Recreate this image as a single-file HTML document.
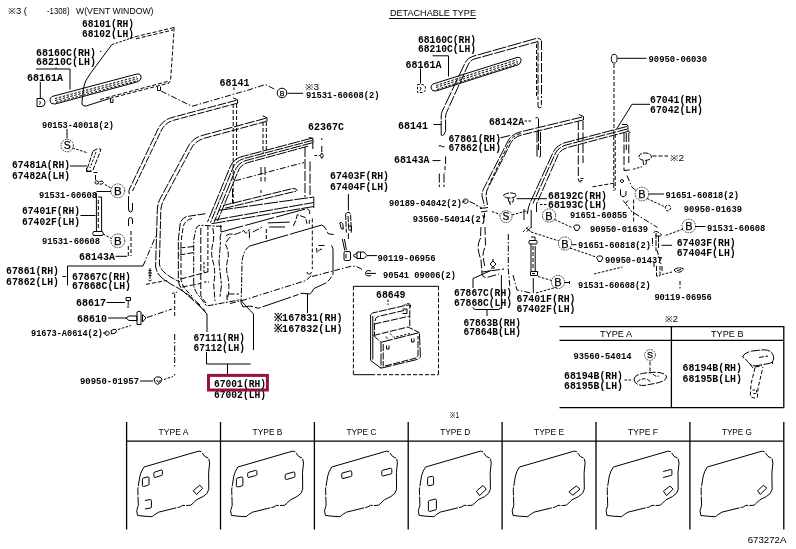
<!DOCTYPE html>
<html><head><meta charset="utf-8"><title>Door panel diagram</title>
<style>
html,body{margin:0;padding:0;background:#fff;}
body{width:796px;height:549px;overflow:hidden;font-family:"Liberation Sans",sans-serif;}
svg{display:block;will-change:transform;}
.m{font-family:"Liberation Mono",monospace;font-weight:bold;fill:#000;}
.s{font-family:"Liberation Sans",sans-serif;fill:#000;}
.s2{font-family:"Liberation Sans",sans-serif;fill:#000;stroke:#000;stroke-width:0.25;}
.l{fill:none;stroke:#000;stroke-width:1;stroke-linecap:butt;stroke-linejoin:round;}
.t{fill:none;stroke:#000;stroke-width:1.3;}
.d{fill:none;stroke:#000;stroke-width:1;stroke-dasharray:4 2;}
.dd{fill:none;stroke:#000;stroke-width:1;stroke-dasharray:6 2 1.5 2;}
.d2{fill:none;stroke:#000;stroke-width:1;stroke-dasharray:2.5 1.5;}
.c{fill:#fff;stroke:#000;stroke-width:0.8;stroke-dasharray:1.6 1;}
.w{fill:#fff;stroke:#000;stroke-width:1;}
</style></head><body>
<svg width="796" height="549" viewBox="0 0 796 549">
<rect x="0" y="0" width="796" height="549" fill="#fff"/>
<path d="M52 96.5 L137 74 Q141.5 73.5 141 78 Q140.5 81 137 82 L55 104 Q50.5 104.5 50 101 Q49.8 97.5 52 96.5Z" class="l" />
<path d="M55 98.5L137 76.8 M55 100.5L138 78.7 M56 102.3L138 80.6" class="d2" />
<path d="M111.8 44.6 L90 74 Q84.5 81 83.5 88 L82 102 Q81.5 106.5 86 106 L109.5 98.5" class="l" />
<path d="M135 36.8 L174.2 27.5 M136 38.8 L173 30" class="d" />
<path d="M174.2 27.5 L170.6 80 L168.5 83.5" class="d" stroke-dasharray="7 3"/>
<path d="M109.5 98.5 L169 83 M100 99.5 L168 81.3" class="d" stroke-dasharray="5 1.5"/>
<path d="M111.8 44.6 L135 36.8" class="d2" />
<path d="M100 51.5 h1.2" class="l" />
<path d="M110.5 99 v3.5 h2.5 v-3.5 M157.5 86.5 v4 h3 v-4" class="l" />
<path d="M161 91 L192 106.3 L250 89.5 L265.5 84.5 L276 90" class="dd" />
<path d="M36 69H70V89.5 M56 69v-1.5" class="l" />
<path d="M40.3 82V98" class="l" />
<path d="M37 98.5h5q3 0.5 3 4t-3 4h-5Z" class="l" />
<path d="M39.5 101q2 1.5 0 3.5" class="l" />
<path d="M67.0 129.0L67.0 138.5" class="l"/>
<circle cx="67.2" cy="145.6" r="6.199999999999999" class="c"/>
<text x="67.2" y="149.4" font-size="10.5" text-anchor="middle" class="s2">S</text>
<path d="M72.5 148 L88 153" class="d2" />
<path d="M93 151 L98 148.5 L101 149.5 L93 170 L88.5 171.5 L87 169.5 Z" class="l" stroke-dasharray="5 1.5"/>
<path d="M96 152 L90 168" class="d2" />
<path d="M70.0 166.0L87.0 166.0" class="l"/>
<path d="M86.5 168 v3.5 h5 M93.5 172.5 h4 M95.5 175 v5 M95 182.5 a1.8 1.6 0 1 0 3.6 0 a1.8 1.6 0 1 0 -3.6 0 M99.5 181.5 q3 -1.5 4 1 q-1 2.5 -4 1.5" class="l" />
<path d="M105 184.5 L111 188" class="d2" />
<circle cx="117.8" cy="190.8" r="6.8999999999999995" class="c"/>
<text x="117.8" y="194.9" font-size="11.5" text-anchor="middle" class="s2">B</text>
<path d="M96.5 191.5L111.0 191.5" class="l"/>
<path d="M533 246 V270" class="d" stroke-dasharray="5 2"/>
<path d="M98.3 200 V230" class="d" stroke-dasharray="5 2"/>
<path d="M96.4 193 V231 M98 197 H101.6 V231 M93.5 231.5 h9 q1.5 2 0 4 h-9 q-1.5 -2 0 -4Z" class="l" />
<path d="M80.5 215.5L95.5 215.5" class="l"/>
<path d="M103 234 L111.5 238.5" class="d2" />
<circle cx="117.8" cy="240.8" r="6.8999999999999995" class="c"/>
<text x="117.8" y="244.9" font-size="11.5" text-anchor="middle" class="s2">B</text>
<path d="M115.5 256.3L127.0 256.3" class="l"/>
<path d="M67.5 285.5V266H143" class="l" />
<path d="M143 266 L155.6 236.5" class="dd" />
<path d="M62.5 276.5L66.0 276.5" class="l"/>
<path d="M148.5 270.5h3 M148 273h4 M148.5 275.5h3 M150 268v11 M148.5 280q1.5 2 3 0" class="l" />
<path d="M106.5 302.5L125.0 302.5" class="l"/>
<path d="M126 297.5h4.5v3h-4.5Z M128.2 300.5v5 M127 306.5q1.2 1.5 2.4 0" class="l" />
<path d="M108.0 318.0L126.0 318.0" class="l"/>
<path d="M126 318 l3 -2 h8 v4.5 h-8 Z M137 312 q2.5 -1.5 4 0 v12.5 h-4 Z M142.5 314.5 l3.5 3.5 l-3.5 4 Z" class="l" />
<path d="M147 317.5 L172 309" class="dd" />
<path d="M103 333h3.5 M107 331 a2.2 2.2 0 1 0 0.1 0 M111 330.5 l4 -1.5 l1.5 1.5 l-1 2.5 l-4 1 Z" class="l" />
<path d="M118 329.5 L131 325.5" class="d2" />
<path d="M140.0 381.0L153.0 381.0" class="l"/>
<path d="M154 379 l2.5 -2 h3.5 l2 2 l-1.5 3.5 l-3 2 l-2.5 -2 Z M156.5 380 l2 2.5 l2 -2.5" class="l" />
<path d="M164 379.5 L173 376.5" class="d2" />
<path d="M174.7 294 V317" class="d" stroke-dasharray="3 2.5"/>
<path d="M174.7 334 V368 M174.7 374 v1.5" class="dd" />
<path d="M172 293.5 l5 -1.5" class="d2" />
<path d="M236.3 100.3 L172 117.5 Q163 120 158.5 128 L129.5 189" class="l" stroke-dasharray="9 1.5"/>
<path d="M237 103.3 L173.5 120.3 Q165.5 122.5 161.5 130 L132.5 191" class="l" stroke-dasharray="7 1.5"/>
<path d="M233 97.8 l4.5 2 v3.8" class="l" />
<path d="M233.2 104 V205 M236.6 104 V160" class="d" stroke-dasharray="8 3"/>
<path d="M129.5 189 q-1.5 3 0 5 M128.5 196 V209 q0 3 2 3 q2 0 2 -3 V203" class="l" />
<path d="M128.5 226 V220 q0 -2.5 2 -2.5 q2 0 2 2.5 v4" class="l" />
<path d="M131 231 V256 M128.3 246 V256" class="d" stroke-dasharray="6 2"/>
<path d="M265.8 118.3 L202 135.5 Q193 138 188.5 146 L160 199 Q157.5 204 157.3 210 L155.6 266 Q156 272 161 277 Q168 283 178 288 L190 296 L200 305" class="l" stroke-dasharray="10 1.5"/>
<path d="M266.5 121.3 L203.5 138.5 Q195.5 141 191.5 148 L163.5 200.5 Q161 205 160.8 211 L159.4 264 Q160 269 165 273 Q171 278 180 282" class="l" stroke-dasharray="8 1.5"/>
<path d="M262.5 115.8 l4.5 2 v3.8" class="l" />
<path d="M263 122 V154 M266.3 122 V150" class="d" stroke-dasharray="8 3"/>
<path d="M312.5 138 L243 156.3 Q234 158.5 230.5 166 L207.5 222" class="l" stroke-dasharray="12 1.2"/>
<path d="M312.8 140.3 L244.5 158.4 Q236.5 160.5 233.2 167.3 L210.5 222.5" class="l" stroke-dasharray="9 1.2"/>
<path d="M313 142.6 L246 160.5 Q239 162.5 236 168.5 L214 222.5" class="l" stroke-dasharray="11 1.2"/>
<path d="M308 146.2 L247.5 162.7 Q241.5 164.5 238.8 169.7 L217.5 221" class="l" stroke-dasharray="10 1.2"/>
<path d="M309 137.5 l4 1 v4" class="l" />
<path d="M305 147 V197 M310 161.5 V195 M312.8 142.4 V149" class="l" stroke-dasharray="10 2"/>
<path d="M235.4 180.7 L304 162.5" class="dd" />
<path d="M232.5 189 V203.5" class="l" stroke-dasharray="8 2"/>
<path d="M261 167 V181.5 M265 167 V181.5 M261 190 v3" class="l" stroke-dasharray="8 2"/>
<path d="M223 205.5 L293 188.5 q3.5 -0.5 4.5 2.5" class="l" stroke-dasharray="9 1.2"/>
<path d="M321.8 138 v2" class="l" />
<path d="M321.8 146 v6 M320.2 155.5 l1.6 -2.5 l1.6 2.5 l-1.6 3 Z" class="l" />
<path d="M314.5 155.5 h5" class="d2" />
<path d="M234 87.5 v2.5" class="l" />
<path d="M219 210.3 L313.8 197 M214.3 220 L313.8 202.5 M211.5 223.7 L313.8 206.5" class="l" stroke-dasharray="14 1.2"/>
<path d="M313.8 197.3 V208" class="l" />
<path d="M205.5 213.7 L187 216.5 Q181 218 180 225 L178.3 240 V280 Q179 287 184 292 L189 296.6 L205.5 311" class="l" stroke-dasharray="8 1.5"/>
<path d="M192 218.5 Q184 220.5 183 228 L181 242 V279 Q181.8 285 186 290 L192 296" class="l" stroke-dasharray="5 2"/>
<path d="M222 226.5 L200 225.2 Q196 226 195.5 231 L193.7 240 V285 Q194.5 291 199 296 L206.7 306 L238.7 300" class="l" stroke-dasharray="6 1.5 2 1.5"/>
<path d="M200.8 228 V296 L206 303" class="l" stroke-dasharray="7 2"/>
<path d="M207.9 226 V273" class="d" stroke-dasharray="1.5 2"/>
<path d="M212.7 228 q2 8 0 16 q-2.5 10 1 20 q2 10 0 20 L215 301" class="l" stroke-dasharray="6 2"/>
<path d="M179.5 248 L193.7 246.5 M179.5 255 L193.7 252.5 M180.7 279 L208 271.8 M181.8 287 L200.8 283.5" class="l" stroke-dasharray="6 2"/>
<path d="M204 262 v12 M204 282 h5" class="d2" />
<path d="M220.7 225 L221 232 L307 208.6 L309.7 210.8 V214" class="l" stroke-dasharray="30 2"/>
<path d="M312.3 218.5 V269" class="d" stroke-dasharray="6 3"/>
<path d="M221 233.5 Q219.5 237 220.5 242 L219 262 L221.5 285 L220 297" class="l" stroke-dasharray="7 1.5 3 1.5"/>
<path d="M230 237.2 Q226 241 225.6 244.8 q3.5 6 2.5 13 q-3 10 0 20 q2 12 -1 22 L227 294 h12" class="l" stroke-dasharray="6 2"/>
<path d="M226 235.5 q4 -2.5 8 -1 q5 -1 9.7 -4 l2.3 3 l3.7 -4.5 M249.4 231.2 V240.2 M252.7 232 L261.8 227.4" class="l" stroke-dasharray="7 1.5"/>
<path d="M266.3 229 V241.8" class="d" stroke-dasharray="5 2"/>
<path d="M267.8 222.9 L289.7 222.1 M269.3 227 H285.1" class="l" />
<path d="M293.4 225.9 L296 220 L297.2 214.6 L305.5 217.6 L307 223.7 M309.3 219.9 V223.7" class="l" stroke-dasharray="6 1.5"/>
<path d="M249.7 246 L321.8 225 L325 227.3 L328.4 233.9 L333.8 234.5" class="l" stroke-dasharray="40 2"/>
<path d="M331.6 245.5 L333 249 V274.3 L330 279 L326 283 L314 288.5 L311.5 292.5 L309.8 294 L302 293.3 L265 306 L258.4 308.3 L250 306 L243 307 L241 302.7" class="l" stroke-dasharray="30 2 6 2"/>
<path d="M249.7 246 Q245 249 244 254 Q241.5 259 242 266 L241.3 296 L241 302.7" class="l" stroke-dasharray="6 1.5 2 1.5"/>
<path d="M316.5 248 l0.5 4.5 M318.5 245.5 h6 M318 251.5 q1.5 -2.5 4 -2.5" class="l" />
<path d="M307 272 a2.2 2.2 0 1 0 4.4 0" class="l" />
<path d="M230 303.5 L244 300 L306 280.5 L311.5 275.5" class="dd" />
<path d="M146 284.3 L167 280.4" class="d" stroke-dasharray="5 3"/>
<path d="M312 276.5 L351.3 266.2 H356 L363.6 270.3" class="dd" />
<path d="M197 303 L207 314 V332" class="l" />
<path d="M240 299.5 L253.5 314 V350" class="l" />
<path d="M307.5 293.5 V313" class="l" />
<path d="M206.5 352 V364 H250.5 M227.5 364 V375" class="l" />
<path d="M348.4 194.0L348.4 210.5" class="l"/>
<path d="M345.6 214 l1.5 -1.5 h2.5 l1 1.5 L351.3 232.6 M345.6 214 L346.4 232.6 M348 216 l0.8 14" class="l" stroke-dasharray="6 1.2"/>
<path d="M339.8 222.8 q2 -1 3 1 l0.5 5.5 M339.8 222.8 l1.5 6 h2" class="l" />
<path d="M348.5 226 h3 v4 h-3" class="l" />
<path d="M348.4 233.4 V239 M342.3 239 L344.8 250.7 M344.4 239 L346.4 250" class="l" />
<path d="M344 253 q0 -1.5 1.5 -1.5 h3.5 q1.5 0 1.5 1.5 v6 q0 1.5 -1.5 1.5 h-3.5 q-1.5 0 -1.5 -1.5Z M346 254 v4.5" class="l" />
<path d="M353 255.6 l4 -2.6 M353 255.6 l4 2.6 M357 252 h7 l3 3.5 l-3 3 h-7 Z M360.5 252 v6.5" class="l" />
<path d="M367.0 255.6L377.0 255.6" class="l"/>
<path d="M371 271 q-5 -1.5 -5.5 2.3 q0.5 3.7 5.5 2.2 M366.5 273.4 h9.5" class="l" stroke-width="1.2"/>
<path d="M353.4 286.3 H438.5" class="l" />
<path d="M353.4 286.3 V374.7 M438.5 286.3 V374.7" class="d" stroke-dasharray="3 1.5"/>
<path d="M353.4 374.7 H375" class="l" />
<path d="M377 374.7 H438.5" class="d" stroke-dasharray="3 1.5"/>
<path d="M388 299.5 V305" class="d2" />
<path d="M370.6 314.8 L372.5 313 L406 305.3 L409.8 305 V326" class="l" stroke-dasharray="8 1.2"/>
<path d="M404 305.5 L406 303.5 L410.5 304 V308" class="d2" />
<path d="M370.6 314.8 V360.4 L381 368.2 M372.8 316 V359.5" class="l" />
<path d="M375 321 q0 -3.5 3 -4.5 L406 310 M374.5 323 V335" class="l" stroke-dasharray="7 1.5"/>
<path d="M402.5 309 h4.5 v4.5 h-4.5" class="l" />
<path d="M373.5 335.5 L408 327 L419.4 332.6 M373.5 335.5 L381 342.3" class="l" stroke-dasharray="7 1.5"/>
<path d="M381 342.3 L419.4 332.6 L420.4 356.5 Q420 358.5 417 359.5 L381 368.2 Z" class="l" stroke-dasharray="12 1.5"/>
<path d="M383.2 344 V366.5 M385 366 L416 358 Q418 357 418 355 V336" class="l" stroke-dasharray="7 1.5"/>
<path d="M386 336.5 l3 4.5 M390 333.5 l4 4 L410 333.5" class="d2" />
<path d="M386.5 345.5 v3.5 h2.5 v-3.5 M411.5 338.5 v3.5 h2.5 v-3.5" class="l" />
<path d="M433 84 L517 57.5 Q521.5 57 521 61 Q520.5 64 517.5 65 L436 91 Q431.5 91.5 431 88 Q430.8 85 433 84Z" class="l" />
<path d="M436 85.5L517 59.8 M436 87.5L518 61.7 M437 89.5L518 63.7" class="d2" />
<path d="M432.6 55.8H448.5V76.5" class="l" />
<path d="M420.5 68.5L420.5 83.5" class="l"/>
<path d="M417.5 84.5h5q3 0.5 3 4t-3 4h-5Z" class="d2" />
<path d="M420 87q2 1.5 0 3.5" class="l" />
<path d="M441.2 135 V116 Q441.2 113.5 442.3 111 L465.5 62 Q468 57.5 473 56.3 L536 38.5 Q540 37.5 541.3 40.5" class="l" stroke-dasharray="14 1.5"/>
<path d="M445.6 130.5 V117 Q445.6 114.5 446.5 112.5 L468.5 64 Q470.5 60 475 58.8 L538 41.5" class="l" stroke-dasharray="11 1.5"/>
<path d="M441.2 135 q2.2 2.5 4.4 -4.5" class="l" />
<path d="M538 41.5 V100 M541.5 41 V98 M538 102 v5 q1.7 2 3.4 0 v-7" class="l" stroke-dasharray="9 2"/>
<path d="M536.5 44 V96" class="d" stroke-dasharray="5 6"/>
<path d="M433.5 124.5L441.0 124.5" class="l"/>
<path d="M524.5 121 h7" class="d2" />
<path d="M535.5 118 q3 -1.5 3 2 V150 M540.5 132 V156 q-2 3 -3.5 0 V130" class="l" stroke-dasharray="12 2"/>
<path d="M432.5 160.6 h8" class="l" />
<path d="M445.6 156.4 V164" class="l" />
<path d="M445 166 V172.5" class="d" stroke-dasharray="1.5 2"/>
<path d="M439.3 173.6 V187 M444 173.6 V187" class="l" stroke-dasharray="9 2"/>
<path d="M438.5 146.3 q1.5 -1.5 3 0 q1.5 1.2 3 0" class="l" />
<path d="M582.3 117 L520 132 Q512 134 508 141 L485 186 Q482 191 482 196 L484.5 206" class="l" stroke-dasharray="11 1.5"/>
<path d="M583 120 L521.5 135 Q514 137 510.5 143.5 L489 186 Q486 191 486 196 L487.5 205" class="l" stroke-dasharray="9 1.5"/>
<path d="M579 114.5 l4.5 2 v3.8" class="l" />
<path d="M500.5 137.8 L510 135.5" class="l" />
<path d="M578.3 121 V179 q0.3 3.5 3 3 M583 121 V163 M580.5 178.5 h3 M580.5 180.5 h2" class="l" stroke-dasharray="9 2.5"/>
<path d="M481 227 L480.5 238 Q478 243 478 248 Q479 255 481 260 L482 274 Q483 278 487 277.5 L499 274" class="l" stroke-dasharray="9 2"/>
<path d="M485 227 L485.5 246 Q483 251 483 256 L485 268" class="l" stroke-dasharray="8 2.5"/>
<path d="M482 272 L504 269" class="l" stroke-dasharray="8 2"/>
<path d="M508.3 234 V270 L510 288" class="dd" />
<path d="M626.8 126.5 L565 142.7 Q557 145 553.5 151.5 L530 203 Q528 208 527.5 213" class="l" stroke-dasharray="12 1.5"/>
<path d="M627.3 129 L566 145 Q558.5 147.3 555.5 153 L533 203.5" class="l" stroke-dasharray="10 1.5"/>
<path d="M627.8 131.5 L567.5 147.5 Q560.5 149.5 558 155 L536.5 204" class="l" stroke-dasharray="9 1.5"/>
<path d="M622 124.5 h5 l1 2 v5 l2.5 1" class="l" />
<path d="M624 133 V170.6 l7.5 -1 M628.8 133 V163 M626.3 133 V150" class="l" stroke-dasharray="9 2.5"/>
<path d="M633 169.3 l9 -2.6" class="d2" />
<ellipse cx="614.2" cy="58.7" rx="2.9" ry="4.4" class="l"/>
<path d="M617.5 58.3L646.5 58.3" class="l"/>
<path d="M614 64 V128" class="d" stroke-dasharray="6 3.5"/>
<path d="M613.8 130 V191" class="d" stroke-dasharray="3.5 2"/>
<path d="M615.2 134 V190" class="d" stroke-dasharray="1.5 4.5"/>
<path d="M650 104.3 H632 L617 128.5" class="l" />
<path d="M638.8 157 q0.5 -4 6.5 -4 q6 0.3 6.2 4 q-1 3.2 -6.5 3.4 q-5.5 -0.2 -6.2 -3.4 Z M643 160.5 l0.5 4 h2.5 l0.5 -4" class="l" stroke-dasharray="5 1.3"/>
<path d="M652.5 156 H668" class="d" stroke-dasharray="4 2"/>
<path d="M462.5 202.5 l3 -2 M465.5 199 a2.6 2.2 0 1 0 0.1 0 M469.5 201.5 l5.5 2.5" class="l" />
<path d="M476 205 L483 208.5" class="d2" />
<path d="M480 208.5 l8 -1 M481 212 l6.5 -1 M484.5 213 v5" class="l" stroke-width="1.3"/>
<path d="M492 211.5 L500 214.5" class="d2" />
<circle cx="506.0" cy="216.6" r="6.0" class="c"/>
<text x="506.0" y="220.3" font-size="10.2" text-anchor="middle" class="s2">S</text>
<path d="M512 215 L526 211" class="d2" />
<path d="M503.5 195 q6.5 -4 13 -0.5 q-0.5 3.5 -6.5 3.5 q-6 0 -6.5 -3 Z M508 198 l1 4 h4 l0.5 -3.5 M509.5 202 l1 3" class="l" stroke-dasharray="6 1"/>
<path d="M516.5 198.7L547.0 198.7" class="l"/>
<path d="M540 204.5 h7" class="d2" />
<path d="M536.5 204 V212" class="l" />
<path d="M524 209 V220 M527.3 211 V214" class="l" />
<path d="M523 232 L529 226" class="d2" />
<circle cx="549.0" cy="215.5" r="6.6" class="c"/>
<text x="549.0" y="219.5" font-size="11" text-anchor="middle" class="s2">B</text>
<path d="M554.5 219.5 L572 227.5" class="d2" />
<path d="M573.5 226.5 l2 -1.5 h3 l1.5 2 l-2 3.5 h-2.5 Z" class="l" />
<path d="M531 232 L559 241" class="d2" />
<circle cx="565.0" cy="243.5" r="6.6" class="c"/>
<text x="565.0" y="247.5" font-size="11" text-anchor="middle" class="s2">B</text>
<path d="M571.5 244.7 h5" class="l" />
<path d="M570 248 L596 257" class="d2" />
<path d="M596.5 257.5 l2 -1.5 h3 l1.5 2 l-2 3.5 h-2.5 Z" class="l" />
<path d="M529.5 240.5 h7 q1.5 1.8 0 3.5 h-7 q-1.5 -1.8 0 -3.5Z M531 237 h4 v3 M531 244 V271 M535.2 246 V271 M531.2 210 V228 M526.5 228 l4 3.5 M530.5 228 l-4 3.5" class="l" />
<path d="M530.5 271.5 h7 v4 h-7 Z M532 273.5 h3" class="l" />
<path d="M533.3 278.0L533.3 293.0" class="l"/>
<path d="M538 276.5 L551.5 280.5" class="d2" />
<circle cx="558.0" cy="282.0" r="6.6" class="c"/>
<text x="558.0" y="286.0" font-size="11" text-anchor="middle" class="s2">B</text>
<path d="M564.5 282.5 h5 M569.5 281 v3" class="l" />
<path d="M594 274 L622.5 267" class="d2" />
<path d="M536 293 L557 287" class="d2" />
<path d="M513 275 L517 290 L531 293" class="dd" />
<path d="M492 270 L473 278.5 V288" class="l" />
<path d="M501.4 275 V288" class="l" stroke-width="1.7"/>
<path d="M501.4 288 V309" class="l" stroke-width="1.1"/>
<path d="M493 259 v2 M493 261 l3 3 l-3 3 l-3 -3 Z M491 268 h4" class="l" />
<path d="M473 307.5 q0.5 2 2.5 2 H498 q2 0 2.5 -2 M487 309.5 V316" class="l" />
<path d="M592.5 186.8 L615 183" class="d" stroke-dasharray="4 2"/>
<path d="M620 181 l2 -1.8 l2 1.8 l-2 1.8 Z" class="l" />
<path d="M620.5 189.5 v5.5 q2.5 3.5 5.5 0 v-4 M623 200.5 l2.5 3 l2.5 -3" class="l" />
<path d="M627 175.5 L631.7 186.8 L636.5 191" class="dd" />
<path d="M626 204 L632 212" class="d2" />
<circle cx="642.0" cy="194.0" r="6.8" class="c"/>
<text x="642.0" y="198.0" font-size="11" text-anchor="middle" class="s2">B</text>
<path d="M648.5 194.0L664.0 194.0" class="l"/>
<path d="M647 198.5 L664 206.5" class="d2" />
<path d="M665 207 l1.8 -1.5 h2.8 l1.4 2 l-1.8 3.3 h-2.4 Z" class="d2" />
<path d="M633.6 199.5 V222" class="d" stroke-dasharray="12 3"/>
<path d="M634 213 L657.5 227.5" class="dd" />
<circle cx="688.8" cy="226.0" r="6.8" class="c"/>
<text x="688.8" y="230.0" font-size="11" text-anchor="middle" class="s2">B</text>
<path d="M695.3 226.5L705.5 226.5" class="l"/>
<path d="M683 229 L664 236" class="d2" />
<path d="M653.5 232.5 q2 -2 4.5 -0.5 l4 3 M655 236 h7 M656 233 V251 M658.5 236 V248 M652.5 238 V246" class="l" stroke-dasharray="6 1.2"/>
<path d="M661.5 245.3L672.0 245.3" class="l"/>
<path d="M657 250 L661 264 M654 262 V268 M656.5 266 v10 h3.5 v-10 M662 266 V272" class="l" stroke-dasharray="5 1.5"/>
<path d="M662 274.5 L672 272" class="d2" />
<path d="M674 270 q3.5 -3.5 9 -1.5 q1 2 -3 3.5 q-4 1 -6 -2 Z M677 270.5 l4 -1" class="l" stroke-dasharray="5 1"/>
<path d="M680 281 V288.5" class="d" stroke-dasharray="3.5 2"/>
<circle cx="650.0" cy="355.0" r="5.3999999999999995" class="c"/>
<text x="650.0" y="358.2" font-size="9" text-anchor="middle" class="s2">S</text>
<path d="M650 361.5 V374" class="d" stroke-dasharray="4 2"/>
<path d="M634 379 Q634.5 374.5 645 373 L655 372.2 Q665.5 372.5 666.5 377 Q666 381 657 383 L644 385.5 Q634.5 385.5 634 379 Z" class="l" stroke-dasharray="7 1.5"/>
<path d="M637 382 q4 -4 10 -3 l4 3 M653 374 q2 3 6 2" class="l" stroke-dasharray="4 1.5"/>
<path d="M624.5 380 h7" class="d2" />
<path d="M742.5 357 Q744 352.5 752 351 L764 349.8 Q772 350 773.5 356.5 Q774.5 362 769 363.5 L756 365.8 Q751 366 748.5 362.5 L745 358.5 Z" class="l" stroke-dasharray="9 1.5"/>
<path d="M759 357.5 L768 356 M750 364 L752.5 367.5 L762 365.8 M772.5 361 v3" class="l" stroke-dasharray="5 1.5"/>
<path d="M755 368 L751 384 L750.3 396 q2.5 3 7 1.5 L758 388 L763 367" class="l" stroke-dasharray="4 2"/>
<path d="M752.5 390 h4 v3.5 h-4" class="d2" />
<path d="M144.0 467.0 L198.8 451.1 L201.4 451.8 L204.7 456.4 L208.8 458.4 L209.6 463.0 L208.6 472.8 L208.8 489.2 L207.1 493.3 L203.0 496.6 L196.5 499.8 L193.2 503.1 L190.8 505.2 L185.8 505.6 L182.6 505.3 L180.1 506.9 L158.8 512.1 L154.7 514.6 L152.2 516.7 L144.0 516.2 L137.5 515.4 L136.7 510.5 L138.3 505.6 L137.8 489.2 L139.9 476.1 L141.6 471.1Z" class="l" stroke-dasharray="60 1.2 8 1.2"/>
<path d="M237.9 467.0 L292.7 451.1 L295.3 451.8 L298.6 456.4 L302.7 458.4 L303.5 463.0 L302.5 472.8 L302.7 489.2 L301.0 493.3 L296.9 496.6 L290.4 499.8 L287.1 503.1 L284.7 505.2 L279.7 505.6 L276.5 505.3 L274.0 506.9 L252.7 512.1 L248.6 514.6 L246.1 516.7 L237.9 516.2 L231.4 515.4 L230.6 510.5 L232.2 505.6 L231.7 489.2 L233.8 476.1 L235.5 471.1Z" class="l" stroke-dasharray="60 1.2 8 1.2"/>
<path d="M331.8 467.0 L386.6 451.1 L389.2 451.8 L392.5 456.4 L396.6 458.4 L397.4 463.0 L396.4 472.8 L396.6 489.2 L394.9 493.3 L390.8 496.6 L384.3 499.8 L381.0 503.1 L378.6 505.2 L373.6 505.6 L370.4 505.3 L367.9 506.9 L346.6 512.1 L342.5 514.6 L340.0 516.7 L331.8 516.2 L325.3 515.4 L324.5 510.5 L326.1 505.6 L325.6 489.2 L327.7 476.1 L329.4 471.1Z" class="l" stroke-dasharray="60 1.2 8 1.2"/>
<path d="M425.6 467.0 L480.4 451.1 L483.0 451.8 L486.3 456.4 L490.4 458.4 L491.2 463.0 L490.2 472.8 L490.4 489.2 L488.7 493.3 L484.6 496.6 L478.1 499.8 L474.8 503.1 L472.4 505.2 L467.4 505.6 L464.2 505.3 L461.7 506.9 L440.4 512.1 L436.3 514.6 L433.8 516.7 L425.6 516.2 L419.1 515.4 L418.3 510.5 L419.9 505.6 L419.4 489.2 L421.5 476.1 L423.2 471.1Z" class="l" stroke-dasharray="60 1.2 8 1.2"/>
<path d="M519.5 467.0 L574.3 451.1 L576.9 451.8 L580.2 456.4 L584.3 458.4 L585.1 463.0 L584.1 472.8 L584.3 489.2 L582.6 493.3 L578.5 496.6 L572.0 499.8 L568.7 503.1 L566.3 505.2 L561.3 505.6 L558.1 505.3 L555.6 506.9 L534.3 512.1 L530.2 514.6 L527.7 516.7 L519.5 516.2 L513.0 515.4 L512.2 510.5 L513.8 505.6 L513.3 489.2 L515.4 476.1 L517.1 471.1Z" class="l" stroke-dasharray="60 1.2 8 1.2"/>
<path d="M613.4 467.0 L668.2 451.1 L670.8 451.8 L674.1 456.4 L678.2 458.4 L679.0 463.0 L678.0 472.8 L678.2 489.2 L676.5 493.3 L672.4 496.6 L665.9 499.8 L662.6 503.1 L660.2 505.2 L655.2 505.6 L652.0 505.3 L649.5 506.9 L628.2 512.1 L624.1 514.6 L621.6 516.7 L613.4 516.2 L606.9 515.4 L606.1 510.5 L607.7 505.6 L607.2 489.2 L609.3 476.1 L611.0 471.1Z" class="l" stroke-dasharray="60 1.2 8 1.2"/>
<path d="M707.3 467.0 L762.1 451.1 L764.7 451.8 L768.0 456.4 L772.1 458.4 L772.9 463.0 L771.9 472.8 L772.1 489.2 L770.4 493.3 L766.3 496.6 L759.8 499.8 L756.5 503.1 L754.1 505.2 L749.1 505.6 L745.9 505.3 L743.4 506.9 L722.1 512.1 L718.0 514.6 L715.5 516.7 L707.3 516.2 L700.8 515.4 L700.0 510.5 L701.6 505.6 L701.1 489.2 L703.2 476.1 L704.9 471.1Z" class="l" stroke-dasharray="60 1.2 8 1.2"/>
<path d="M143.6 478.0 L147.8 476.8 Q149.0 476.8 149.0 478.0 L149.0 484.1 Q149.0 485.3 147.8 485.3 L143.6 486.5 Q142.4 486.5 142.4 485.3 L142.4 479.2 Q142.4 478.0 143.6 478.0Z" class="l" />
<path d="M155.1 472.0 L161.2 470.0 Q162.4 470.0 162.4 471.2 L162.4 474.3 Q162.4 475.5 161.2 475.5 L155.1 477.5 Q153.9 477.5 153.9 476.3 L153.9 473.2 Q153.9 472.0 155.1 472.0Z" class="l" />
<path d="M144.9 500.5 L150.4 499.5 Q151.4 499.5 151.4 500.5 L151.4 507.0 Q151.4 508.0 150.4 508.0 L144.9 509.0" class="l" />
<path d="M193.2 490.8 L199.8 485.1 L202.7 488.4 L196.5 494.4Z" class="l" />
<path d="M237.6 478.0 L241.7 477.0 Q242.9 477.0 242.9 478.2 L242.9 484.8 Q242.9 486.0 241.7 486.0 L237.6 487.0 Q236.4 487.0 236.4 485.8 L236.4 479.2 Q236.4 478.0 237.6 478.0Z" class="l" />
<path d="M248.9 472.3 L255.7 470.3 Q256.9 470.3 256.9 471.5 L256.9 474.3 Q256.9 475.5 255.7 475.5 L248.9 477.5 Q247.7 477.5 247.7 476.3 L247.7 473.5 Q247.7 472.3 248.9 472.3Z" class="l" />
<path d="M286.4 474.0 L293.7 472.0 Q294.9 472.0 294.9 473.2 L294.9 476.3 Q294.9 477.5 293.7 477.5 L286.4 479.5 Q285.2 479.5 285.2 478.3 L285.2 475.2 Q285.2 474.0 286.4 474.0Z" class="l" />
<path d="M343.0 472.8 L350.6 470.8 Q351.8 470.8 351.8 472.0 L351.8 475.3 Q351.8 476.5 350.6 476.5 L343.0 478.5 Q341.8 478.5 341.8 477.3 L341.8 474.0 Q341.8 472.8 343.0 472.8Z" class="l" />
<path d="M383.0 470.2 L390.6 468.2 Q391.8 468.2 391.8 469.4 L391.8 472.8 Q391.8 474.0 390.6 474.0 L383.0 476.0 Q381.8 476.0 381.8 474.8 L381.8 471.4 Q381.8 470.2 383.0 470.2Z" class="l" />
<path d="M428.8 477.0 L432.4 476.4 Q433.6 476.4 433.6 477.6 L433.6 483.9 Q433.6 485.1 432.4 485.1 L428.8 485.7 Q427.6 485.7 427.6 484.5 L427.6 478.2 Q427.6 477.0 428.8 477.0Z" class="l" />
<path d="M429.6 500.5 L435.2 499.0 Q436.4 499.0 436.4 500.2 L436.4 508.8 Q436.4 510.0 435.2 510.0 L429.6 511.5 Q428.4 511.5 428.4 510.3 L428.4 501.7 Q428.4 500.5 429.6 500.5Z" class="l" />
<path d="M476.4 491.2 L483.0 485.4 L486.2 489.1 L479.6 495.7Z" class="l" />
<path d="M568.9 491.8 L576.3 486.0 L580.0 489.1 L572.8 495.2Z" class="l" />
<path d="M663.1 471.5 L670.9 469.5 Q671.9 469.5 671.9 470.5 L671.9 474.5 Q671.9 475.5 670.9 475.5 L663.1 477.5" class="l" />
<path d="M663.4 491.2 L670.0 486.0 L673.1 489.1 L666.6 495.7Z" class="l" />
<path d="M757.6 490.7 L763.4 485.4 L766.8 488.0 L760.2 494.4Z" class="l" />
<circle cx="282" cy="93" r="4.8" class="l" stroke-width="0.8"/>
<text x="282" y="95.6" font-size="7" text-anchor="middle" class="s2">B</text>
<path d="M287.5 93.3L303.0 93.3" class="l"/>
<path d="M374.4 324 L408.9 316.3" class="l" stroke-dasharray="7 1.5"/>
<path d="M225 208.2 L296 191.2" class="l" stroke-dasharray="9 1.2"/>
<path d="M520.7 133.5 Q513 135.5 509.2 142.2 L488.6 185.5" class="d" stroke-dasharray="1.5 1.5"/>
<text x="8.0" y="13.6" font-size="8.4" textLength="19.0" lengthAdjust="spacingAndGlyphs" class="s">※3 (</text>
<text x="47.0" y="13.6" font-size="8.4" textLength="22.5" lengthAdjust="spacingAndGlyphs" class="s">-1308)</text>
<text x="76.0" y="13.6" font-size="8.4" textLength="77.5" lengthAdjust="spacingAndGlyphs" class="s">W(VENT WINDOW)</text>
<text x="82.0" y="26.7" font-size="11.2" textLength="52.0" lengthAdjust="spacingAndGlyphs" class="m">68101(RH)</text>
<text x="82.0" y="36.7" font-size="11.2" textLength="52.0" lengthAdjust="spacingAndGlyphs" class="m">68102(LH)</text>
<text x="36.0" y="55.7" font-size="11.2" textLength="60.0" lengthAdjust="spacingAndGlyphs" class="m">68160C(RH)</text>
<text x="36.0" y="64.7" font-size="11.2" textLength="60.0" lengthAdjust="spacingAndGlyphs" class="m">68210C(LH)</text>
<text x="27.0" y="80.7" font-size="11.2" textLength="36.0" lengthAdjust="spacingAndGlyphs" class="m">68161A</text>
<text x="42.0" y="128.1" font-size="9.4" textLength="72.0" lengthAdjust="spacingAndGlyphs" class="m">90153-40018(2)</text>
<text x="12.0" y="167.7" font-size="11.2" textLength="58.0" lengthAdjust="spacingAndGlyphs" class="m">67481A(RH)</text>
<text x="12.0" y="178.7" font-size="11.2" textLength="58.0" lengthAdjust="spacingAndGlyphs" class="m">67482A(LH)</text>
<text x="39.0" y="198.1" font-size="9.4" textLength="58.0" lengthAdjust="spacingAndGlyphs" class="m">91531-60608</text>
<text x="22.0" y="213.7" font-size="11.2" textLength="58.0" lengthAdjust="spacingAndGlyphs" class="m">67401F(RH)</text>
<text x="22.0" y="224.7" font-size="11.2" textLength="58.0" lengthAdjust="spacingAndGlyphs" class="m">67402F(LH)</text>
<text x="42.0" y="244.1" font-size="9.4" textLength="58.0" lengthAdjust="spacingAndGlyphs" class="m">91531-60608</text>
<text x="79.0" y="260.2" font-size="11.2" textLength="36.0" lengthAdjust="spacingAndGlyphs" class="m">68143A</text>
<text x="6.0" y="273.7" font-size="11.2" textLength="53.0" lengthAdjust="spacingAndGlyphs" class="m">67861(RH)</text>
<text x="6.0" y="285.2" font-size="11.2" textLength="53.0" lengthAdjust="spacingAndGlyphs" class="m">67862(LH)</text>
<text x="72.0" y="279.7" font-size="11.2" textLength="59.0" lengthAdjust="spacingAndGlyphs" class="m">67867C(RH)</text>
<text x="72.0" y="288.7" font-size="11.2" textLength="59.0" lengthAdjust="spacingAndGlyphs" class="m">67868C(LH)</text>
<text x="76.0" y="306.2" font-size="11.2" textLength="30.0" lengthAdjust="spacingAndGlyphs" class="m">68617</text>
<text x="77.0" y="321.7" font-size="11.2" textLength="30.0" lengthAdjust="spacingAndGlyphs" class="m">68610</text>
<text x="31.0" y="336.1" font-size="9.4" textLength="72.0" lengthAdjust="spacingAndGlyphs" class="m">91673-A0614(2)</text>
<text x="80.0" y="384.1" font-size="9.4" textLength="59.0" lengthAdjust="spacingAndGlyphs" class="m">90950-01957</text>
<text x="219.5" y="85.7" font-size="11.2" textLength="30.0" lengthAdjust="spacingAndGlyphs" class="m">68141</text>
<text x="305.0" y="89.5" font-size="8.4" textLength="14.0" lengthAdjust="spacingAndGlyphs" class="s">※3</text>
<text x="306.0" y="98.1" font-size="9.4" textLength="73.5" lengthAdjust="spacingAndGlyphs" class="m">91531-60608(2)</text>
<text x="308.0" y="130.2" font-size="11.2" textLength="36.0" lengthAdjust="spacingAndGlyphs" class="m">62367C</text>
<text x="330.0" y="179.2" font-size="11.2" textLength="59.0" lengthAdjust="spacingAndGlyphs" class="m">67403F(RH)</text>
<text x="330.0" y="189.7" font-size="11.2" textLength="59.0" lengthAdjust="spacingAndGlyphs" class="m">67404F(LH)</text>
<text x="274.0" y="320.7" font-size="11.2" textLength="68.5" lengthAdjust="spacingAndGlyphs" class="m">※167831(RH)</text>
<text x="274.0" y="331.7" font-size="11.2" textLength="68.5" lengthAdjust="spacingAndGlyphs" class="m">※167832(LH)</text>
<text x="193.5" y="340.7" font-size="11.2" textLength="51.5" lengthAdjust="spacingAndGlyphs" class="m">67111(RH)</text>
<text x="193.5" y="350.7" font-size="11.2" textLength="51.5" lengthAdjust="spacingAndGlyphs" class="m">67112(LH)</text>
<text x="214.0" y="397.9" font-size="11.2" textLength="52.0" lengthAdjust="spacingAndGlyphs" class="m">67002(LH)</text>
<rect x="208.5" y="375.4" width="58.9" height="14.6" fill="#fff" stroke="#96133c" stroke-width="3"/>
<text x="214.0" y="386.6" font-size="11.2" textLength="52.0" lengthAdjust="spacingAndGlyphs" class="m">67001(RH)</text>
<text x="377.5" y="260.6" font-size="9.4" textLength="58.0" lengthAdjust="spacingAndGlyphs" class="m">90119-06956</text>
<text x="383.0" y="278.1" font-size="9.4" textLength="73.0" lengthAdjust="spacingAndGlyphs" class="m">90541 09006(2)</text>
<text x="376.0" y="298.2" font-size="11.2" textLength="29.5" lengthAdjust="spacingAndGlyphs" class="m">68649</text>
<text x="390.0" y="15.6" font-size="8.6" textLength="86.0" lengthAdjust="spacingAndGlyphs" class="s">DETACHABLE TYPE</text>
<path d="M389.0 18.5L476.0 18.5" class="l"/>
<text x="418.0" y="42.7" font-size="11.2" textLength="58.0" lengthAdjust="spacingAndGlyphs" class="m">68160C(RH)</text>
<text x="418.0" y="52.2" font-size="11.2" textLength="58.0" lengthAdjust="spacingAndGlyphs" class="m">68210C(LH)</text>
<text x="405.5" y="68.4" font-size="11.2" textLength="36.0" lengthAdjust="spacingAndGlyphs" class="m">68161A</text>
<text x="398.0" y="128.7" font-size="11.2" textLength="30.0" lengthAdjust="spacingAndGlyphs" class="m">68141</text>
<text x="489.0" y="124.7" font-size="11.2" textLength="35.0" lengthAdjust="spacingAndGlyphs" class="m">68142A</text>
<text x="448.5" y="141.5" font-size="11.2" textLength="52.5" lengthAdjust="spacingAndGlyphs" class="m">67861(RH)</text>
<text x="448.5" y="151.3" font-size="11.2" textLength="52.5" lengthAdjust="spacingAndGlyphs" class="m">67862(LH)</text>
<text x="394.0" y="162.5" font-size="11.2" textLength="35.5" lengthAdjust="spacingAndGlyphs" class="m">68143A</text>
<text x="648.5" y="61.8" font-size="9.4" textLength="58.5" lengthAdjust="spacingAndGlyphs" class="m">90950-06030</text>
<text x="650.0" y="103.2" font-size="11.2" textLength="53.0" lengthAdjust="spacingAndGlyphs" class="m">67041(RH)</text>
<text x="650.0" y="112.5" font-size="11.2" textLength="53.0" lengthAdjust="spacingAndGlyphs" class="m">67042(LH)</text>
<text x="670.0" y="160.5" font-size="8.4" textLength="14.0" lengthAdjust="spacingAndGlyphs" class="s">※2</text>
<text x="665.5" y="198.4" font-size="9.4" textLength="73.5" lengthAdjust="spacingAndGlyphs" class="m">91651-60818(2)</text>
<text x="548.0" y="198.7" font-size="11.2" textLength="59.0" lengthAdjust="spacingAndGlyphs" class="m">68192C(RH)</text>
<text x="548.0" y="208.3" font-size="11.2" textLength="59.0" lengthAdjust="spacingAndGlyphs" class="m">68193C(LH)</text>
<text x="683.8" y="211.8" font-size="9.4" textLength="58.2" lengthAdjust="spacingAndGlyphs" class="m">90950-01639</text>
<text x="570.0" y="218.1" font-size="9.4" textLength="57.3" lengthAdjust="spacingAndGlyphs" class="m">91651-60855</text>
<text x="590.0" y="231.9" font-size="9.4" textLength="58.0" lengthAdjust="spacingAndGlyphs" class="m">90950-01639</text>
<text x="707.0" y="230.9" font-size="9.4" textLength="58.4" lengthAdjust="spacingAndGlyphs" class="m">91531-60608</text>
<text x="676.7" y="245.7" font-size="11.2" textLength="59.0" lengthAdjust="spacingAndGlyphs" class="m">67403F(RH)</text>
<text x="676.7" y="256.4" font-size="11.2" textLength="59.0" lengthAdjust="spacingAndGlyphs" class="m">67404F(LH)</text>
<text x="578.0" y="247.8" font-size="9.4" textLength="73.0" lengthAdjust="spacingAndGlyphs" class="m">91651-60818(2)</text>
<text x="605.0" y="262.6" font-size="9.4" textLength="57.4" lengthAdjust="spacingAndGlyphs" class="m">90950-01437</text>
<text x="578.0" y="287.7" font-size="9.4" textLength="72.6" lengthAdjust="spacingAndGlyphs" class="m">91531-60608(2)</text>
<text x="654.4" y="299.5" font-size="9.4" textLength="57.4" lengthAdjust="spacingAndGlyphs" class="m">90119-06956</text>
<text x="389.0" y="205.5" font-size="9.4" textLength="73.0" lengthAdjust="spacingAndGlyphs" class="m">90189-04042(2)</text>
<text x="412.8" y="222.1" font-size="9.4" textLength="73.2" lengthAdjust="spacingAndGlyphs" class="m">93560-54014(2)</text>
<text x="454.0" y="295.7" font-size="11.2" textLength="58.0" lengthAdjust="spacingAndGlyphs" class="m">67867C(RH)</text>
<text x="454.0" y="305.7" font-size="11.2" textLength="58.0" lengthAdjust="spacingAndGlyphs" class="m">67868C(LH)</text>
<text x="516.5" y="302.4" font-size="11.2" textLength="59.0" lengthAdjust="spacingAndGlyphs" class="m">67401F(RH)</text>
<text x="516.5" y="311.9" font-size="11.2" textLength="59.0" lengthAdjust="spacingAndGlyphs" class="m">67402F(LH)</text>
<text x="463.5" y="326.3" font-size="11.2" textLength="57.5" lengthAdjust="spacingAndGlyphs" class="m">67863B(RH)</text>
<text x="463.5" y="335.2" font-size="11.2" textLength="57.5" lengthAdjust="spacingAndGlyphs" class="m">67864B(LH)</text>
<text x="665.0" y="321.6" font-size="8.4" textLength="13.0" lengthAdjust="spacingAndGlyphs" class="s">※2</text>
<path d="M559.5 326.6H783.8V407.6H559.5 M559.5 340.3H783.8 M671.4 326.6V407.6" class="t" />
<text x="600.0" y="337.1" font-size="9.3" textLength="32.0" lengthAdjust="spacingAndGlyphs" class="s">TYPE A</text>
<text x="711.0" y="337.1" font-size="9.3" textLength="32.5" lengthAdjust="spacingAndGlyphs" class="s">TYPE B</text>
<text x="573.6" y="359.1" font-size="9.4" textLength="57.8" lengthAdjust="spacingAndGlyphs" class="m">93560-54014</text>
<text x="564.0" y="379.1" font-size="11.2" textLength="59.0" lengthAdjust="spacingAndGlyphs" class="m">68194B(RH)</text>
<text x="564.0" y="388.5" font-size="11.2" textLength="59.0" lengthAdjust="spacingAndGlyphs" class="m">68195B(LH)</text>
<text x="682.6" y="370.7" font-size="11.2" textLength="59.4" lengthAdjust="spacingAndGlyphs" class="m">68194B(RH)</text>
<text x="682.6" y="381.7" font-size="11.2" textLength="59.4" lengthAdjust="spacingAndGlyphs" class="m">68195B(LH)</text>
<text x="450.0" y="418.0" font-size="8.4" textLength="9.0" lengthAdjust="spacingAndGlyphs" class="s">※1</text>
<path d="M126.6 441.1H783.8 M126.6 422V529.5 M220.5 422V529.5 M314.4 422V529.5 M408.2 422V529.5 M502.1 422V529.5 M596.0 422V529.5 M689.9 422V529.5 M783.8 422V529.5" class="t" />
<text x="158.6" y="434.7" font-size="8.2" textLength="30.0" lengthAdjust="spacingAndGlyphs" class="s">TYPE A</text>
<text x="252.5" y="434.7" font-size="8.2" textLength="30.0" lengthAdjust="spacingAndGlyphs" class="s">TYPE B</text>
<text x="346.4" y="434.7" font-size="8.2" textLength="30.0" lengthAdjust="spacingAndGlyphs" class="s">TYPE C</text>
<text x="440.2" y="434.7" font-size="8.2" textLength="30.0" lengthAdjust="spacingAndGlyphs" class="s">TYPE D</text>
<text x="534.1" y="434.7" font-size="8.2" textLength="30.0" lengthAdjust="spacingAndGlyphs" class="s">TYPE E</text>
<text x="628.0" y="434.7" font-size="8.2" textLength="30.0" lengthAdjust="spacingAndGlyphs" class="s">TYPE F</text>
<text x="721.9" y="434.7" font-size="8.2" textLength="30.0" lengthAdjust="spacingAndGlyphs" class="s">TYPE G</text>
<text x="747.7" y="543.1" font-size="8.6" textLength="38.8" lengthAdjust="spacingAndGlyphs" class="s">673272A</text>
</svg>
</body></html>
